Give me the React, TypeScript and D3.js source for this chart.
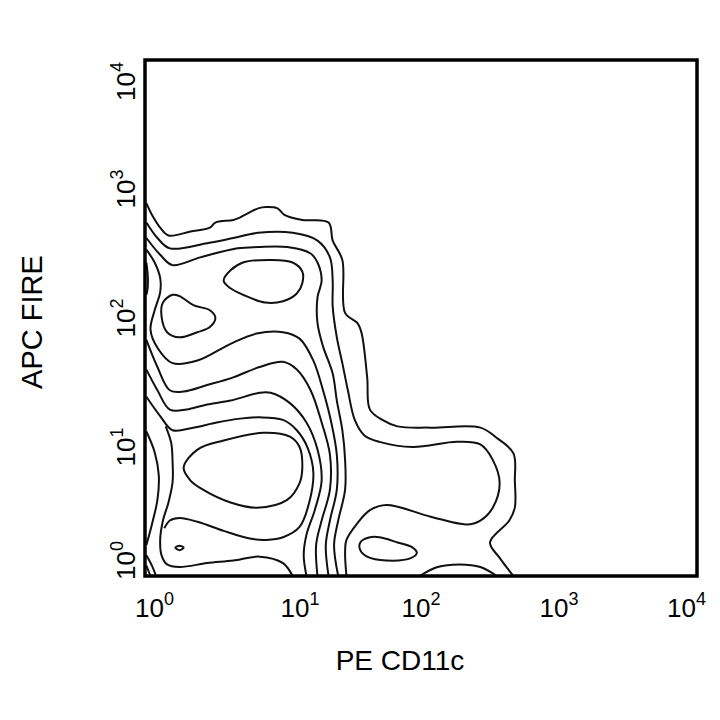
import React from "react";
import * as d3 from "d3";

// Contour lines, in decades: [log10(PE CD11c), log10(APC FIRE)]
const contourA: [number, number][] = [[.01,2.89],[.05,2.80],[.11,2.70],[.17,2.64],[.33,2.67],[.47,2.70],[.51,2.74],[.64,2.76],[.69,2.78],[.82,2.85],[.88,2.86],[.96,2.85],[1.01,2.80],[1.14,2.76],[1.33,2.74],[1.36,2.60],[1.43,2.45],[1.45,2.04],[1.54,1.96],[1.57,1.88],[1.61,1.54],[1.63,1.29],[1.72,1.21],[1.83,1.16],[2.07,1.15],[2.43,1.15],[2.55,1.07],[2.67,.95],[2.68,.74],[2.68,.53],[2.64,.43],[2.50,.26],[2.57,.14],[2.67,0]];
const contourB: [number, number][] = [[.01,2.74],[.09,2.62],[.18,2.54],[.45,2.58],[.64,2.62],[.82,2.66],[1.07,2.66],[1.25,2.60],[1.34,2.47],[1.36,2.29],[1.36,2.09],[1.39,1.85],[1.43,1.65],[1.47,1.44],[1.52,1.21],[1.59,1.09],[1.70,1.04],[1.94,1.00],[2.26,1.04],[2.43,1.02],[2.52,.90],[2.57,.72],[2.52,.53],[2.43,.43],[2.33,.40],[2.07,.46],[1.75,.55],[1.63,.51],[1.54,.41],[1.46,.28],[1.45,.18],[1.46,0]];
const contourC: [number, number][] = [[.01,2.62],[.11,2.49],[.20,2.41],[.40,2.47],[.67,2.54],[.82,2.55],[1.03,2.55],[1.20,2.50],[1.25,2.43],[1.28,2.29],[1.25,2.16],[1.25,1.96],[1.29,1.78],[1.36,1.57],[1.39,1.36],[1.43,1.13],[1.45,.90],[1.45,.67],[1.40,.43],[1.37,.24],[1.40,0]];
const contourD: [number, number][] = [[.01,2.53],[.07,2.43],[.11,2.31],[.11,2.20],[.07,2.06],[.04,1.91],[.09,1.77],[.20,1.65],[.38,1.67],[.62,1.80],[.81,1.88],[1.00,1.89],[1.12,1.84],[1.22,1.67],[1.29,1.44],[1.35,1.19],[1.39,.94],[1.39,.67],[1.34,.43],[1.31,.24],[1.33,0]];
const contourE: [number, number][] = [[.01,1.83],[.09,1.62],[.18,1.44],[.28,1.43],[.45,1.48],[.64,1.54],[.83,1.62],[1.00,1.66],[1.10,1.60],[1.20,1.44],[1.28,1.19],[1.34,.94],[1.34,.67],[1.28,.43],[1.24,.24],[1.25,0]];
const contourF: [number, number][] = [[.01,1.60],[.09,1.44],[.18,1.29],[.30,1.29],[.45,1.33],[.62,1.36],[.83,1.42],[.91,1.42],[1.05,1.34],[1.17,1.19],[1.25,.98],[1.28,.74],[1.23,.51],[1.17,.32],[1.15,.16],[1.17,0]];
const contourG: [number, number][] = [[.01,1.39],[.11,1.24],[.20,1.13],[.35,1.15],[.52,1.19],[.69,1.22],[.83,1.23],[1.00,1.21],[1.10,1.13],[1.18,.99],[1.22,.80],[1.19,.57],[1.12,.38],[1.00,.30],[.88,.28],[.76,.29],[.57,.35],[.38,.42],[.25,.45],[.18,.43],[.14,.37]];
const contourLeft1: [number, number][] = [[.15,1.16],[.19,1.03],[.20,.88],[.20,.73],[.17,.57],[.13,.43],[.11,.28],[.12,.16],[.16,.09],[.25,.07],[.45,.10],[.64,.12],[.83,.15],[1.00,.10],[1.07,0]];
const contourLeft2: [number, number][] = [[.01,1.12],[.07,.96],[.10,.78],[.09,.59],[.05,.40],[.01,.24]];
const cornerArc1: [number, number][] = [[.01,.16],[.05,.08],[.08,0]];
const cornerArc2: [number, number][] = [[.01,.08],[.04,0]];
const edgeArc: [number, number][] = [[.01,2.43],[.02,2.33],[.02,2.24],[.01,2.18]];
const bottomArc: [number, number][] = [[1.99,0],[2.12,.07],[2.28,.09],[2.43,.07],[2.55,0]];

const island1: [number, number][] = [[.57,2.29],[.62,2.37],[.71,2.43],[.91,2.45],[1.07,2.43],[1.14,2.36],[1.14,2.27],[1.10,2.19],[1.00,2.13],[.87,2.12],[.71,2.18],[.62,2.23]];
const island2: [number, number][] = [[.13,2.12],[.20,2.18],[.25,2.17],[.35,2.10],[.47,2.06],[.51,2.00],[.47,1.93],[.38,1.89],[.25,1.85],[.16,1.89],[.12,2.01]];
const island3: [number, number][] = [[.28,.84],[.38,.98],[.57,1.05],[.86,1.11],[1.05,1.08],[1.12,1.00],[1.14,.84],[1.12,.72],[1.03,.59],[.81,.53],[.62,.57],[.42,.67],[.33,.74]];
const island4: [number, number][] = [[.22,.22],[.25,.235],[.28,.22],[.25,.20]];
const island5: [number, number][] = [[1.56,.26],[1.63,.30],[1.70,.30],[1.83,.26],[1.94,.22],[1.97,.18],[1.93,.14],[1.75,.12],[1.61,.15],[1.56,.20]];

const openLines = [contourA, contourB, contourC, contourD, contourE, contourF, contourG, contourLeft1, contourLeft2, cornerArc1, cornerArc2, edgeArc, bottomArc];
const closedLines = [island1, island2, island3, island4, island5];

const tickExponents = [0, 1, 2, 3, 4];
const xTitle = "PE CD11c";
const yTitle = "APC FIRE";

// label nudges (layout only), in px
const xLabelNudge = [-10, 17, 0, 0, 9];

export default function App() {
  const left = 145, right = 697, top = 60, bottom = 576;
  const x = d3.scaleLog().domain([1, 1e4]).range([left, right]);
  const y = d3.scaleLog().domain([1, 1e4]).range([bottom, top]);
  const px = (d: [number, number]) => x(Math.pow(10, d[0]));
  const py = (d: [number, number]) => y(Math.pow(10, d[1]));
  const openGen = d3.line<[number, number]>().x(px).y(py).curve(d3.curveCatmullRom.alpha(0.5));
  const closedGen = d3.line<[number, number]>().x(px).y(py).curve(d3.curveCatmullRomClosed.alpha(0.5));
  const font = "Liberation Sans, Arial, sans-serif";

  return (
    <svg width={720} height={720} style={{ position: "absolute", left: 0, top: 0, background: "#fff" }}>
      <defs>
        <clipPath id="plotClip">
          <rect x={left} y={top} width={right - left} height={bottom - top} />
        </clipPath>
      </defs>
      <g clipPath="url(#plotClip)" fill="none" stroke="#111" strokeWidth={2} strokeLinejoin="round">
        {openLines.map((l, i) => <path key={"o" + i} d={openGen(l) || ""} />)}
        {closedLines.map((l, i) => <path key={"c" + i} d={closedGen(l) || ""} />)}
      </g>
      <rect x={left} y={top} width={right - left} height={bottom - top} fill="none" stroke="#000" strokeWidth={3.5} />
      {tickExponents.map((e, i) => {
        const tx = x(Math.pow(10, e));
        const anchor = i === 0 ? "start" : i === tickExponents.length - 1 ? "end" : "middle";
        return (
          <text key={"xt" + e} x={tx + xLabelNudge[i]} y={617} fontFamily={font} fontSize={26} textAnchor={anchor} fill="#000">
            10<tspan fontSize={18} dy={-12}>{e}</tspan>
          </text>
        );
      })}
      {tickExponents.map((e, i) => {
        const ty = y(Math.pow(10, e));
        const anchor = i === 0 ? "start" : i === tickExponents.length - 1 ? "end" : "middle";
        const dd = i === 0 ? -4 : i === tickExponents.length - 1 ? -2 : 0;
        return (
          <text key={"yt" + e} transform={`translate(135,${ty - dd}) rotate(-90)`} fontFamily={font} fontSize={26} textAnchor={anchor} fill="#000">
            10<tspan fontSize={18} dy={-12}>{e}</tspan>
          </text>
        );
      })}
      <text x={400} y={670} fontFamily={font} fontSize={28} textAnchor="middle" fill="#000">{xTitle}</text>
      <text transform="translate(42,322) rotate(-90)" fontFamily={font} fontSize={29} textAnchor="middle" fill="#000">{yTitle}</text>
    </svg>
  );
}
